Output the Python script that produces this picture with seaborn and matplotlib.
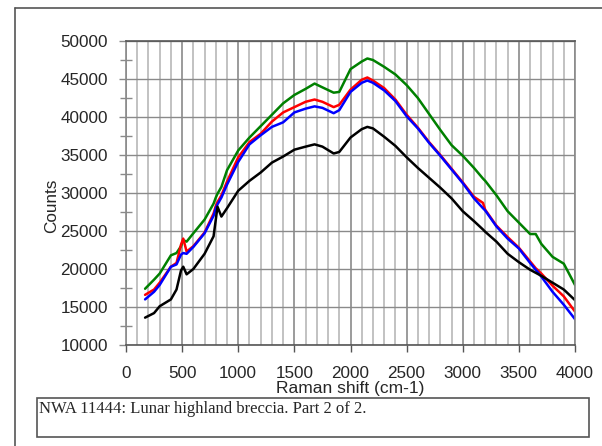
import matplotlib
matplotlib.use("Agg")
import matplotlib.pyplot as plt
import seaborn as sns
import pandas as pd
from matplotlib.ticker import MultipleLocator, FuncFormatter
from matplotlib.lines import Line2D
from matplotlib.patches import Rectangle

sns.set_style("white")
plt.rcParams['font.family'] = ['Liberation Sans', 'DejaVu Sans']

# Raman shift (cm-1)
shift = [170, 250, 300, 400, 450, 490, 510, 540, 600, 700, 780, 800, 815, 850,
         900, 1000, 1100, 1200, 1300, 1400, 1500, 1600, 1680, 1750, 1850, 1900,
         2000, 2100, 2150, 2200, 2300, 2400, 2500, 2600, 2700, 2800, 2900, 3000,
         3100, 3180, 3200, 3300, 3400, 3500, 3600, 3650, 3700, 3800, 3900, 4000]

green = [17400, 18600, 19400, 21800, 22100, 23000, 23800, 23600, 24700, 26500, 28600, 29400, 29900, 30800,
         33000, 35600, 37300, 38800, 40300, 41800, 42900, 43700, 44400, 43900, 43200, 43300,
         46300, 47300, 47700, 47500, 46600, 45600, 44200, 42500, 40400, 38300, 36300, 34900,
         33300, 31900, 31600, 29700, 27600, 26100, 24600, 24600, 23300, 21600, 20700, 17900]

red = [16600, 17300, 18200, 20300, 20800, 23200, 24000, 22300, 23000, 24800, 27300, 28300, 28800, 29700,
       31500, 34700, 36700, 37800, 39400, 40600, 41300, 42000, 42300, 42000, 41300, 41600,
       43600, 44900, 45200, 44800, 43800, 42300, 40300, 38600, 36700, 35000, 33200, 31400,
       29500, 28700, 27800, 25700, 24200, 22800, 21000, 20100, 19400, 17800, 16400, 14400]

blue = [16000, 17000, 17900, 20300, 20600, 21900, 22100, 22000, 22900, 24700, 27000, 28000, 28500, 29400,
        31100, 34100, 36400, 37600, 38700, 39300, 40600, 41100, 41400, 41200, 40500, 40900,
        43300, 44500, 44800, 44500, 43500, 42100, 40100, 38500, 36600, 34900, 33100, 31300,
        29300, 28000, 27700, 25600, 24000, 22700, 20800, 19900, 19000, 17000, 15300, 13400]

black = [13600, 14200, 15100, 16000, 17300, 19800, 20300, 19300, 20000, 22000, 24300, 26500, 28200, 26900,
         28000, 30300, 31600, 32700, 34000, 34800, 35700, 36100, 36400, 36100, 35200, 35400,
         37300, 38400, 38700, 38500, 37400, 36200, 34700, 33300, 32000, 30700, 29300, 27600,
         26300, 25200, 24900, 23600, 22000, 20900, 19900, 19500, 19100, 18200, 17300, 15900]

series_names = ["green", "red", "blue", "black"]
series_vals = [green, red, blue, black]
colors = {"green": "#008000", "red": "#ff0000", "blue": "#0000ff", "black": "#000000"}

rows = []
for nm, vals in zip(series_names, series_vals):
    for x, y in zip(shift, vals):
        rows.append({"shift": x, "counts": y, "series": nm})
df = pd.DataFrame(rows)

W, H = 602, 446
fig = plt.figure(figsize=(W / 100, H / 100), dpi=100)
ax = fig.add_axes([126 / W, 1 - 345 / H, 449 / W, 304 / H])

sns.lineplot(data=df, x="shift", y="counts", hue="series", palette=colors,
             hue_order=["green", "red", "blue", "black"], lw=1.8, ax=ax,
             legend=False, estimator=None, sort=False)

ax.set_xlim(0, 4000)
ax.set_ylim(10000, 50000)
ax.xaxis.set_major_locator(MultipleLocator(500))
ax.xaxis.set_minor_locator(MultipleLocator(100))
ax.yaxis.set_major_locator(MultipleLocator(5000))
ax.yaxis.set_minor_locator(MultipleLocator(2500))
fmt = FuncFormatter(lambda v, p: f"{int(round(v))}")
ax.xaxis.set_major_formatter(fmt)
ax.yaxis.set_major_formatter(fmt)

ax.grid(True, which='minor', axis='x', color='#b8b8b8', lw=1.2)
ax.grid(True, which='major', axis='x', color='#8a8a8a', lw=1.2)
ax.grid(True, which='major', axis='y', color='#8a8a8a', lw=1.0)
ax.set_axisbelow(True)

for s in ["left", "right"]:
    ax.spines[s].set_color('#8a8a8a')
    ax.spines[s].set_linewidth(1.2)
for s in ["top", "bottom"]:
    ax.spines[s].set_color('#555555')
    ax.spines[s].set_linewidth(1.2)

ax.tick_params(axis='y', which='major', direction='out', length=5, width=1, color='#8a8a8a',
               labelsize=12.3, pad=8, left=True)
ax.tick_params(axis='y', which='minor', direction='inout', length=8, width=1, color='#8a8a8a', left=True)
ax.tick_params(axis='x', which='major', direction='out', length=5, width=1, color='#555555',
               labelsize=12.3, pad=10, bottom=True)
ax.tick_params(axis='x', which='minor', length=0)

ax.set_xlabel("Raman shift (cm-1)", fontsize=12.5, labelpad=0)
ax.set_ylabel("")
fig.text(51.5 / W, 1 - 206 / H, "Counts", rotation=90, fontsize=12.3, ha='center', va='center')

# page border lines
fig.add_artist(Line2D([15 / W, 1.0], [1 - 8 / H, 1 - 8 / H], color='#555555', lw=1.2, transform=fig.transFigure))
fig.add_artist(Line2D([15 / W, 15 / W], [1 - 8 / H, 0], color='#555555', lw=1.2, transform=fig.transFigure))

# caption box
fig.add_artist(Rectangle((37 / W, 1 - 437 / H), (589 - 37) / W, (437 - 398) / H,
                         transform=fig.transFigure, fill=False, edgecolor='#555555', lw=1.2))
fig.text(39 / W, 1 - 401 / H, "NWA 11444: Lunar highland breccia. Part 2 of 2.",
         family=['Liberation Serif', 'DejaVu Serif'], fontsize=12, ha='left', va='top')

fig.savefig("out.png", dpi=100)
